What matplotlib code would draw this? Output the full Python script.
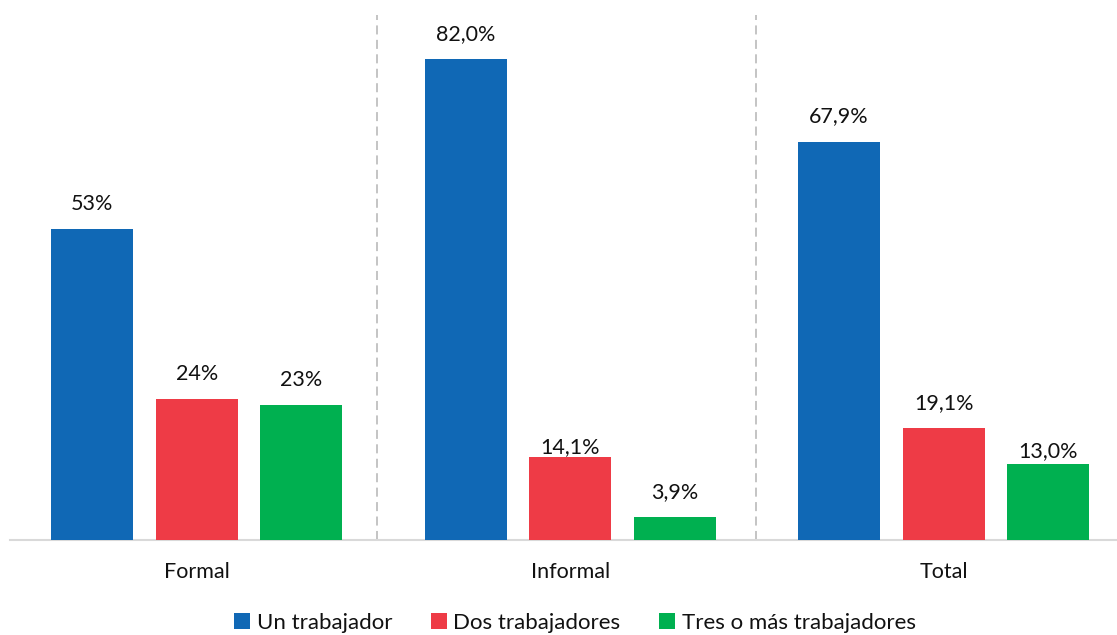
import matplotlib
matplotlib.use("Agg")
import matplotlib.pyplot as plt
import numpy as np

categories = ["Formal", "Informal", "Total"]
series_names = ["Un trabajador", "Dos trabajadores", "Tres o más trabajadores"]
un_trabajador = [53.0, 82.0, 67.9]
dos_trabajadores = [24.0, 14.1, 19.1]
tres_o_mas = [23.0, 3.9, 13.0]
label_un = ["53%", "82,0%", "67,9%"]
label_dos = ["24%", "14,1%", "19,1%"]
label_tres = ["23%", "3,9%", "13,0%"]

colors = ["#1068B5", "#EE3B46", "#00B050"]
plt.rcParams['font.family'] = ['Lato', 'DejaVu Sans']

W, H = 1117, 635
fig = plt.figure(figsize=(W / 100, H / 100), dpi=100)
left_px, base_px, top_px = 10, 540, 15
ax = fig.add_axes([left_px / W, (H - base_px) / H, (W - left_px) / W, (base_px - top_px) / H])

px_per_unit = 373.5
ax.set_xlim(-0.5, -0.5 + (W - left_px) / px_per_unit)
px_per_pct = 481 / 82.0
ax.set_ylim(0, (base_px - top_px) / px_per_pct)

x = np.arange(len(categories))
bw = 0.22
off = 0.28
all_vals = [un_trabajador, dos_trabajadores, tres_o_mas]
all_labels = [label_un, label_dos, label_tres]
# label offsets in points (a few labels sit closer to their bars in the reference)
label_offsets = {(1, 1): 0, (2, 2): 2}
for i, (vals, labs) in enumerate(zip(all_vals, all_labels)):
    xs = x + (i - 1) * off
    ax.bar(xs, vals, width=bw, color=colors[i], label=series_names[i], zorder=3)
    for j, (xx, v, lab) in enumerate(zip(xs, vals, labs)):
        dy = label_offsets.get((i, j), 11)
        ax.annotate(lab, (xx, v), xytext=(0, dy), textcoords="offset points",
                    ha="center", va="bottom", fontsize=15.5, color="#111111")

for sep in [0.482, 1.497]:
    ax.axvline(sep, color="#BFBFBF", linestyle=(0, (5, 3)), linewidth=1.3, zorder=1)

for s in ["top", "right", "left"]:
    ax.spines[s].set_visible(False)
ax.spines["bottom"].set_color("#D9D9D9")
ax.spines["bottom"].set_linewidth(1.5)
ax.set_yticks([])
ax.set_xticks(x)
ax.set_xticklabels(categories, fontsize=15.5, color="#111111")
ax.tick_params(axis="x", length=0, pad=16)

leg = fig.legend(loc="center", bbox_to_anchor=(575 / W, (H - 623) / H), ncol=3, frameon=False,
                 fontsize=16, handlelength=0.7, handleheight=0.7, handletextpad=0.3,
                 columnspacing=1.75)
for t in leg.get_texts():
    t.set_color("#111111")

fig.savefig("out.png", dpi=100)
